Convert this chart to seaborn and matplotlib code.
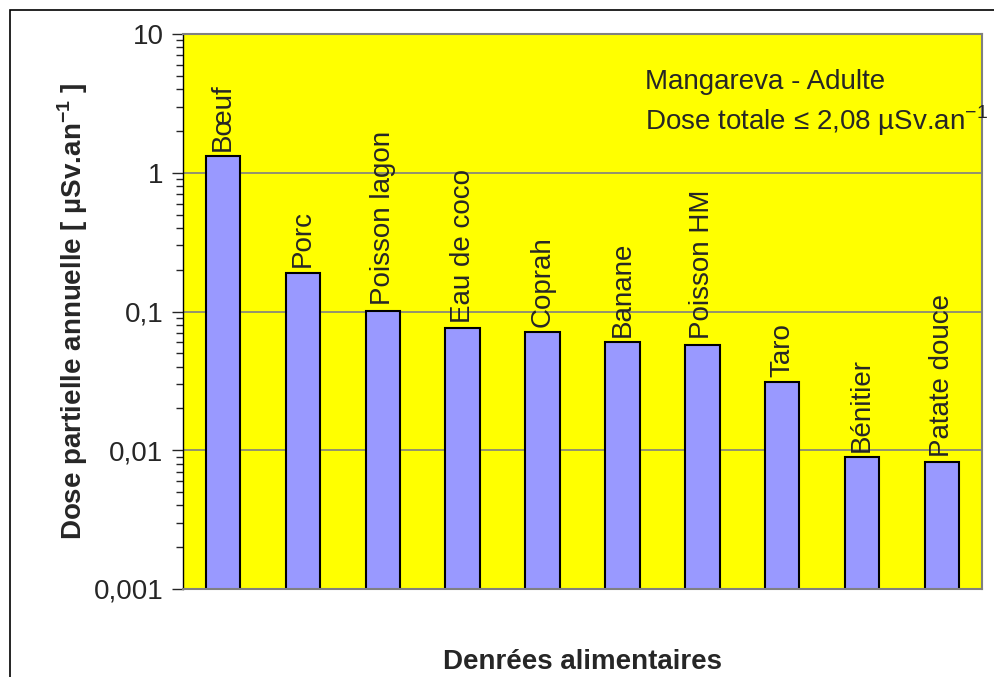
import matplotlib
matplotlib.use("Agg")
import matplotlib.pyplot as plt
import matplotlib.ticker as mticker
from matplotlib.patches import Rectangle
import pandas as pd
import seaborn as sns

foods = ["Bœuf", "Porc", "Poisson lagon", "Eau de coco", "Coprah",
         "Banane", "Poisson HM", "Taro", "Bénitier", "Patate douce"]
doses = [1.31, 0.19, 0.101, 0.0755, 0.0706, 0.0598, 0.0578, 0.0309, 0.0089, 0.0082]

y_ticks = [0.001, 0.01, 0.1, 1, 10]
y_tick_labels = ["0,001", "0,01", "0,1", "1", "10"]

df = pd.DataFrame({"food": foods, "dose": doses})

sns.set_style("white")
plt.rcParams["font.family"] = ["Liberation Sans", "DejaVu Sans"]
plt.rcParams["mathtext.fontset"] = "custom"
plt.rcParams["mathtext.rm"] = "Liberation Sans"
plt.rcParams["mathtext.bf"] = "Liberation Sans:bold"

fig = plt.figure(figsize=(9.94, 6.77), dpi=100)
fig.patches.append(Rectangle((10 / 994, -0.1), 1.1, 1 - 10 / 677 + 0.1,
                             transform=fig.transFigure, fill=False,
                             edgecolor="black", linewidth=1.2))

ax = fig.add_axes([183 / 994, 1 - 589 / 677, 799 / 994, 555 / 677])
ax.set_facecolor("#FFFF00")

sns.barplot(data=df, x="food", y="dose", ax=ax, color="#9999FF",
            saturation=1, width=0.43, edgecolor="black", linewidth=1.5)

ax.set_yscale("log")
ax.set_ylim(0.001, 10)
ax.set_xlim(-0.5, len(foods) - 0.5)

ax.yaxis.set_major_locator(mticker.FixedLocator(y_ticks))
ax.yaxis.set_major_formatter(mticker.FixedFormatter(y_tick_labels))
ax.yaxis.set_minor_locator(mticker.LogLocator(base=10, subs=range(2, 10)))
ax.yaxis.set_minor_formatter(mticker.NullFormatter())
ax.tick_params(axis="y", which="major", direction="out", length=8, width=1,
               left=True, labelsize=20, pad=6)
ax.tick_params(axis="y", which="minor", direction="out", length=5, width=1, left=True)
ax.set_xticks([])

ax.yaxis.grid(True, which="major", color="#808080", linewidth=1.2)
ax.set_axisbelow(True)

for side in ["top", "right", "bottom"]:
    ax.spines[side].set_color("#808080")
    ax.spines[side].set_linewidth(1.5)
ax.spines["left"].set_color("black")
ax.spines["left"].set_linewidth(1)

for i, (name, v) in enumerate(zip(foods, doses)):
    ax.annotate(name, xy=(i, v), xytext=(0, 4), textcoords="offset points",
                rotation=90, ha="center", va="bottom", fontsize=20)

ax.text(0.578, 0.913, "Mangareva - Adulte", transform=ax.transAxes,
        fontsize=20, ha="left", va="center")
ax.text(0.578, 0.843, "Dose totale \u2264 2,08 µSv.an$^{-1}$", transform=ax.transAxes,
        fontsize=20, ha="left", va="center")

ax.set_xlabel("Denrées alimentaires", fontsize=20, fontweight="bold", labelpad=43)
ax.set_ylabel("Dose partielle annuelle [ µSv.an$^{\\mathbf{-1}}$ ]", fontsize=20,
              fontweight="bold", labelpad=3)

fig.savefig("out.png", dpi=100)
